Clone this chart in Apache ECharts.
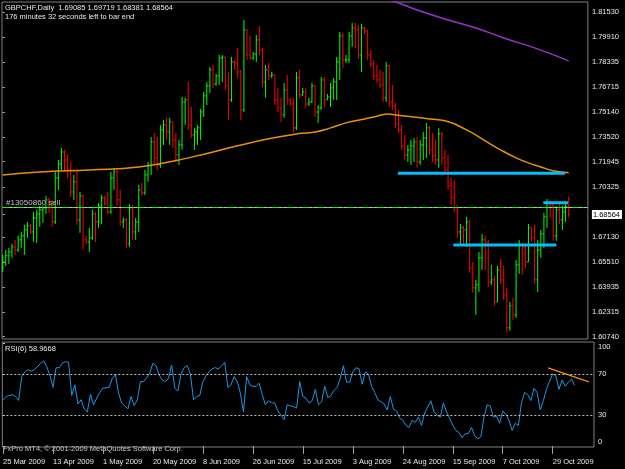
<!DOCTYPE html>
<html>
<head>
<meta charset="utf-8">
<script src="https://cdn.jsdelivr.net/npm/echarts@6.0.0/dist/echarts.min.js"></script>
<style>
html,body{margin:0;padding:0;background:#000;}
#chart{width:625px;height:469px;}
</style>
</head>
<body>
<div id="chart"></div>
<script>
// GBPCHF daily bars, 25 Mar 2009 .. 6 Nov 2009 (bar index 0..183)
let opens = [
1.6515,1.6553,1.6592,1.6617,1.6649,1.6630,1.6694,1.6720,1.6758,1.6784,
1.6745,1.6835,1.6860,1.6886,1.6899,1.6950,1.6912,1.6809,1.7091,1.7180,
1.7257,1.7206,1.7142,1.7001,1.7065,1.6822,1.6976,1.6694,1.6681,1.6707,
1.6860,1.6809,1.6912,1.6963,1.6924,1.6873,1.7091,1.7129,1.6950,1.6809,
1.6822,1.6668,1.6899,1.6745,1.6809,1.7014,1.6995,1.7110,1.7168,1.7321,
1.7219,1.7174,1.7398,1.7430,1.7385,1.7449,1.7334,1.7238,1.7302,1.7577,
1.7590,1.7430,1.7366,1.7385,1.7411,1.7513,1.7616,1.7680,1.7782,1.7692,
1.7744,1.7859,1.7865,1.7680,1.7590,1.7833,1.7827,1.7769,1.7526,1.8038,
1.7878,1.7859,1.7884,1.7974,1.7910,1.7705,1.7782,1.7744,1.7750,1.7590,
1.7539,1.7494,1.7654,1.7590,1.7564,1.7411,1.7731,1.7622,1.7641,1.7564,
1.7577,1.7680,1.7513,1.7539,1.7718,1.7590,1.7609,1.7667,1.7705,1.7833,
1.8000,1.7846,1.7846,1.8000,1.8051,1.8038,1.7878,1.8051,1.8032,1.7878,
1.7820,1.7744,1.7718,1.7686,1.7603,1.7808,1.7577,1.7552,1.7436,1.7398,
1.7296,1.7238,1.7270,1.7296,1.7321,1.7193,1.7302,1.7347,1.7411,1.7270,
1.7232,1.7206,1.7372,1.7219,1.7142,1.7040,1.6963,1.6899,1.6745,1.6771,
1.6758,1.6809,1.6515,1.6387,1.6406,1.6579,1.6694,1.6681,1.6425,1.6438,
1.6297,1.6502,1.6438,1.6342,1.6131,1.6272,1.6214,1.6534,1.6662,1.6643,
1.6553,1.6771,1.6707,1.6438,1.6630,1.6732,1.6841,1.6931,1.6912,1.6720,
1.6886,1.6822,1.6873,1.69085
];
let highs = [
1.6598,1.6630,1.6643,1.6668,1.6694,1.6720,1.6745,1.6790,1.6809,1.6796,
1.6873,1.6886,1.6912,1.6912,1.6976,1.6963,1.6950,1.7129,1.7206,1.7283,
1.7270,1.7238,1.7193,1.7110,1.7142,1.7001,1.6982,1.6720,1.6771,1.6886,
1.6873,1.6931,1.6982,1.6976,1.7001,1.7129,1.7155,1.7142,1.7014,1.6835,
1.6835,1.6924,1.6918,1.6835,1.7046,1.7059,1.7142,1.7193,1.7353,1.7379,
1.7353,1.7430,1.7462,1.7475,1.7475,1.7449,1.7379,1.7334,1.7609,1.7603,
1.7705,1.7545,1.7411,1.7430,1.7532,1.7641,1.7705,1.7801,1.7814,1.7756,
1.7878,1.7878,1.7865,1.7769,1.7865,1.7846,1.7923,1.7782,1.8102,1.8044,
1.8000,1.7897,1.8006,1.8064,1.7923,1.7814,1.7827,1.7769,1.7750,1.7667,
1.7603,1.7699,1.7750,1.7603,1.7603,1.7769,1.7782,1.7667,1.7667,1.7603,
1.7699,1.7686,1.7558,1.7737,1.7737,1.7628,1.7699,1.7731,1.7865,1.8025,
1.8019,1.7878,1.8025,1.8083,1.8083,1.8070,1.8076,1.8057,1.8038,1.7910,
1.7846,1.7814,1.7782,1.7769,1.7833,1.7814,1.7686,1.7571,1.7526,1.7430,
1.7366,1.7302,1.7334,1.7347,1.7353,1.7334,1.7385,1.7443,1.7424,1.7379,
1.7334,1.7411,1.7385,1.7270,1.7238,1.7091,1.7078,1.6918,1.6796,1.6784,
1.6841,1.6822,1.6553,1.6438,1.6617,1.6732,1.6720,1.6694,1.6534,1.6464,
1.6528,1.6572,1.6528,1.6387,1.6297,1.6323,1.6566,1.6694,1.6675,1.6668,
1.6796,1.6771,1.6790,1.6694,1.6758,1.6867,1.6956,1.6944,1.6924,1.6912,
1.6937,1.6912,1.6924,1.69719
];
let lows = [
1.6489,1.6528,1.6540,1.6579,1.6598,1.6617,1.6643,1.6598,1.6707,1.6732,
1.6681,1.6675,1.6777,1.6803,1.6860,1.6867,1.6777,1.6796,1.7014,1.7142,
1.7129,1.7091,1.6969,1.6950,1.6790,1.6739,1.6630,1.6668,1.6617,1.6694,
1.6681,1.6771,1.6796,1.6912,1.6854,1.6860,1.7014,1.6912,1.6784,1.6771,
1.6643,1.6649,1.6694,1.6694,1.6745,1.6976,1.6982,1.7065,1.7110,1.7174,
1.7142,1.7155,1.7302,1.7334,1.7302,1.7283,1.7193,1.7174,1.7270,1.7430,
1.7398,1.7347,1.7270,1.7302,1.7334,1.7481,1.7558,1.7635,1.7667,1.7680,
1.7686,1.7705,1.7654,1.7462,1.7577,1.7782,1.7731,1.7462,1.7513,1.7846,
1.7846,1.7846,1.7833,1.7878,1.7673,1.7603,1.7718,1.7731,1.7558,1.7513,
1.7449,1.7475,1.7558,1.7552,1.7379,1.7398,1.7603,1.7616,1.7539,1.7552,
1.7571,1.7481,1.7443,1.7526,1.7539,1.7590,1.7545,1.7590,1.7590,1.7718,
1.7795,1.7827,1.7827,1.7929,1.7923,1.7852,1.7769,1.8012,1.7846,1.7801,
1.7718,1.7699,1.7667,1.7577,1.7577,1.7545,1.7526,1.7411,1.7379,1.7270,
1.7206,1.7193,1.7174,1.7193,1.7155,1.7174,1.7206,1.7219,1.7238,1.7193,
1.7174,1.7155,1.7174,1.7123,1.7014,1.6918,1.6873,1.6707,1.6662,1.6662,
1.6649,1.6483,1.6355,1.6214,1.6361,1.6502,1.6502,1.6393,1.6406,1.6272,
1.6297,1.6412,1.6310,1.6099,1.6112,1.6182,1.6195,1.6476,1.6470,1.6515,
1.6553,1.6681,1.6412,1.6361,1.6579,1.6643,1.6771,1.6835,1.6688,1.6688,
1.6796,1.6758,1.6809,1.68381
];
let closes = [
1.6553,1.6592,1.6617,1.6649,1.6630,1.6694,1.6720,1.6758,1.6784,1.6745,
1.6835,1.6860,1.6886,1.6899,1.6950,1.6912,1.6809,1.7091,1.7180,1.7257,
1.7206,1.7142,1.7001,1.7065,1.6822,1.6976,1.6694,1.6681,1.6707,1.6860,
1.6809,1.6912,1.6963,1.6924,1.6873,1.7091,1.7129,1.6950,1.6809,1.6822,
1.6668,1.6899,1.6745,1.6809,1.7014,1.6995,1.7110,1.7168,1.7321,1.7219,
1.7174,1.7398,1.7430,1.7385,1.7449,1.7334,1.7238,1.7302,1.7577,1.7590,
1.7430,1.7366,1.7385,1.7411,1.7513,1.7616,1.7680,1.7782,1.7692,1.7744,
1.7859,1.7865,1.7680,1.7590,1.7833,1.7827,1.7769,1.7526,1.8038,1.7878,
1.7859,1.7884,1.7974,1.7910,1.7705,1.7782,1.7744,1.7750,1.7590,1.7539,
1.7494,1.7654,1.7590,1.7564,1.7411,1.7731,1.7622,1.7641,1.7564,1.7577,
1.7680,1.7513,1.7539,1.7718,1.7590,1.7609,1.7667,1.7705,1.7833,1.8000,
1.7846,1.7846,1.8000,1.8051,1.8038,1.7878,1.8051,1.8032,1.7878,1.7820,
1.7744,1.7718,1.7686,1.7603,1.7808,1.7577,1.7552,1.7436,1.7398,1.7296,
1.7238,1.7270,1.7296,1.7321,1.7193,1.7302,1.7347,1.7411,1.7270,1.7232,
1.7206,1.7372,1.7219,1.7142,1.7040,1.6963,1.6899,1.6745,1.6771,1.6758,
1.6809,1.6515,1.6387,1.6406,1.6579,1.6694,1.6681,1.6425,1.6438,1.6297,
1.6502,1.6438,1.6342,1.6131,1.6272,1.6214,1.6534,1.6662,1.6643,1.6553,
1.6771,1.6707,1.6438,1.6630,1.6732,1.6841,1.6931,1.6912,1.6720,1.6886,
1.6822,1.6873,1.69085,1.68564
];
// RSI(6)
let rsi = [
44.8,48,49,49.7,48,44.2,67.4,72,74,72.5,
74,77,80,82.6,77,69,57,76,76,80.4,
81.9,81.3,49,59.4,40.7,45,36,33,50.3,40,
46.5,52,56.2,56.5,57,65.8,69,51.3,41.6,39,
36,48,39.3,44.8,62.5,62.5,66,71,80.4,78,
69,64,62.5,65.8,78.7,56.2,53.5,70,76.1,78,
69.7,44.8,48,49,62.5,68,72.2,75,76.1,74.8,
78,81.3,56.8,59.4,67.4,62.5,51.3,32.9,67.4,59.4,
58,57.7,61,50,40,43.9,42,41.6,34.2,30,
25.5,40,39,38.3,36.8,62.5,48,46.5,41.6,44,
55,40,43,58,47,49,54,57,66,78,
62,62,72,76,75,60,72,70,58,52,
45,43,41,35,48,36,34,27,25,20,
18,25,23,28,20,32,38,44,33,30,
28,42,33,27,20,15,13,8,12,12,
18,10,7,9,28,40,39,28,29,22,
34,31,25,15,22,20,42,52,50,44,
56,52,35,44,55,63,70,68,55,64,
58,62,65,58.97
];
// moving averages (bar index / value)
let maSlowIdx = [0,12,28,44,60,76,86,95,101,106,111,117,120,125,127,133,138,143,150,156,161,166,170,174,178,183];
let maSlowVal = [1.7110,1.7129,1.7142,1.7161,1.7219,1.7296,1.7341,1.7372,1.7385,1.7411,1.7443,1.7468,1.7481,1.7500,1.7494,1.7481,1.7468,1.7456,1.7398,1.7328,1.7270,1.7219,1.7187,1.7161,1.7136,1.7123];
let maLongIdx = [118,126,134,143,153,162,172,183];
let maLongVal = [1.8260,1.8224,1.8166,1.8108,1.8051,1.7987,1.7923,1.7840];
// trend lines drawn on the chart: [startIdx, endIdx, price]
let levelLines = [[127.8,181.8,1.71202],[145.7,179.0,1.66611],[174.8,182.8,1.69320]];
let rsiTrend = [[174.5,75.8],[187.6,62.3]];
let orderPrice = 1.69235;
let bidPrice = 1.68564;
// axis ticks
let priceTicks = [1.81530,1.79910,1.78335,1.76715,1.75140,1.73520,1.71945,1.70325,1.68564,1.67130,1.65510,1.63935,1.62315,1.60740];
let rsiTicks = [0,30,70,100];
let dateTickIdx = [0,16,32,48,64,80,96,112,128,144,160,176];
let dateLabels = ['25 Mar 2009','13 Apr 2009','1 May 2009','20 May 2009','8 Jun 2009','26 Jun 2009','15 Jul 2009','3 Aug 2009','24 Aug 2009','15 Sep 2009','7 Oct 2009','29 Oct 2009'];

let barData = closes.map(function (c, i) { return [i, opens[i], highs[i], lows[i], c]; });
let font = 'Liberation Sans';
let txt = '#E8E8E8';

function renderBar(params, api) {
    let i = api.value(0);
    let o = api.value(1), h = api.value(2), l = api.value(3), c = api.value(4);
    let ph = api.coord([i, h]), pl = api.coord([i, l]);
    let po = api.coord([i, o]), pc = api.coord([i, c]);
    let color = c >= o ? '#00FF00' : '#FF0000';
    let st = {stroke: color, lineWidth: 1};
    return {
        type: 'group',
        children: [
            {type: 'line', shape: {x1: ph[0], y1: ph[1], x2: pl[0], y2: pl[1]}, style: st},
            {type: 'line', shape: {x1: po[0] - 1.3, y1: po[1], x2: po[0], y2: po[1]}, style: st},
            {type: 'line', shape: {x1: pc[0], y1: pc[1], x2: pc[0] + 1.3, y2: pc[1]}, style: st}
        ]
    };
}

let xMin = -0.22, xMax = 189.22;
let series = [];
series.push({
    type: 'custom', xAxisIndex: 0, yAxisIndex: 0,
    renderItem: renderBar, data: barData,
    encode: {x: 0, y: [1, 2, 3, 4]},
    markLine: {
        silent: true, symbol: 'none', animation: false,
        data: [
            {yAxis: bidPrice, lineStyle: {color: '#C0C0C0', type: 'solid', width: 1}, label: {show: false}},
            {yAxis: orderPrice, lineStyle: {color: '#00FF00', type: [7, 3, 2, 3], width: 1},
             label: {show: true, position: 'insideStartTop', formatter: '#13050860 sell', color: '#C0C0C0', fontSize: 8, fontFamily: font, distance: [4, 1]}}
        ]
    }
});
series.push({
    type: 'line', xAxisIndex: 0, yAxisIndex: 0, symbol: 'none', smooth: true,
    data: maSlowIdx.map(function (x, k) { return [x, maSlowVal[k]]; }),
    lineStyle: {color: '#E8900C', width: 1.5}
});
series.push({
    type: 'line', xAxisIndex: 0, yAxisIndex: 0, symbol: 'none', smooth: true,
    data: maLongIdx.map(function (x, k) { return [x, maLongVal[k]]; }),
    lineStyle: {color: '#9932CC', width: 1.5}
});
levelLines.forEach(function (ln) {
    series.push({
        type: 'line', xAxisIndex: 0, yAxisIndex: 0, symbol: 'none',
        data: [[ln[0], ln[2]], [ln[1], ln[2]]],
        lineStyle: {color: '#00BFFF', width: 3}
    });
});
series.push({
    type: 'line', xAxisIndex: 1, yAxisIndex: 1, symbol: 'none',
    data: rsi.map(function (v, i) { return [i, v]; }),
    lineStyle: {color: '#1E96E0', width: 1},
    markLine: {
        silent: true, symbol: 'none', animation: false, label: {show: false},
        lineStyle: {color: '#C0C0C0', type: [2, 2], width: 1},
        data: [{yAxis: 70}, {yAxis: 30}]
    }
});
series.push({
    type: 'line', xAxisIndex: 1, yAxisIndex: 1, symbol: 'none',
    data: rsiTrend, lineStyle: {color: '#FF8C00', width: 1.2}
});

let option = {
    backgroundColor: '#000000',
    animation: false,
    textStyle: {fontFamily: font},
    grid: [
        {left: 2, top: 2, width: 592, height: 337, show: true, borderColor: '#808080', borderWidth: 1},
        {left: 2, top: 342, width: 592, height: 105, show: true, borderColor: '#808080', borderWidth: 1}
    ],
    xAxis: [
        {type: 'value', gridIndex: 0, min: xMin, max: xMax, show: false},
        {type: 'value', gridIndex: 1, min: xMin, max: xMax,
         splitLine: {show: false}, axisLine: {show: false},
         axisTick: {show: true, length: 8, lineStyle: {color: '#A0A0A0'}, customValues: dateTickIdx},
         axisLabel: {color: txt, fontSize: 7.5, fontFamily: font, align: 'left', margin: 11,
                     customValues: dateTickIdx,
                     formatter: function (v) { let k = dateTickIdx.indexOf(Math.round(v)); return k >= 0 ? dateLabels[k] : ''; }}}
    ],
    yAxis: [
        {type: 'value', gridIndex: 0, position: 'right', min: 1.60592, max: 1.82170, scale: true,
         splitLine: {show: false}, axisLine: {show: false},
         axisTick: {show: true, length: 2, lineStyle: {color: '#C0C0C0'}, customValues: priceTicks},
         axisLabel: {color: txt, fontSize: 7.5, fontFamily: font, margin: 4, customValues: priceTicks,
                     formatter: function (v) { return Math.abs(v - bidPrice) < 1e-7 ? '{cur|' + v.toFixed(5) + '}' : v.toFixed(5); },
                     rich: {cur: {backgroundColor: '#FFFFFF', color: '#000000', fontSize: 7.5, fontFamily: font, padding: [1, 2, 0, 1]}}}},
        {type: 'value', gridIndex: 1, position: 'right', min: -1, max: 101,
         splitLine: {show: false}, axisLine: {show: false},
         axisTick: {show: true, length: 2, lineStyle: {color: '#C0C0C0'}, customValues: rsiTicks},
         axisLabel: {color: txt, fontSize: 7.5, fontFamily: font, margin: 4, customValues: rsiTicks,
                     verticalAlignMinLabel: 'bottom', verticalAlignMaxLabel: 'top'}}
    ],
    graphic: [
        {type: 'text', left: 5, top: 4, style: {text: 'GBPCHF,Daily  1.69085 1.69719 1.68381 1.68564', fill: txt, font: '7.5px ' + font}},
        {type: 'text', left: 5, top: 13, style: {text: '176 minutes 32 seconds left to bar end', fill: txt, font: '7.5px ' + font}},
        {type: 'text', left: 5, top: 345, style: {text: 'RSI(6) 58.9668', fill: txt, font: '7.5px ' + font}},
        {type: 'text', left: 3, top: 445, style: {text: 'FxPro MT4, \u00A9 2001-2009 MetaQuotes Software Corp.', fill: '#C8C8C8', font: '7.5px ' + font}}
    ],
    series: series
};

let chart = echarts.init(document.getElementById('chart'));
chart.setOption(option);
</script>
</body>
</html>
